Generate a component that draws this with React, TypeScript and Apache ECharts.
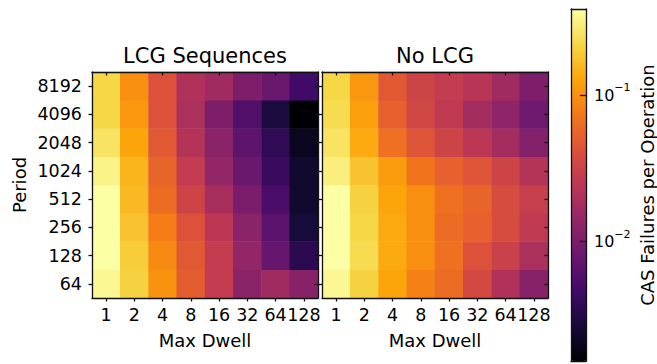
import React, { useEffect, useRef } from 'react';
import * as echarts from 'echarts';

// Max Dwell categories (x) and Period categories (y, bottom to top)
const dwells = ['1', '2', '4', '8', '16', '32', '64', '128'];
const periods = ['64', '128', '256', '512', '1024', '2048', '4096', '8192'];

// CAS failures per operation, rows follow `periods`, columns follow `dwells`
const lcgValues = [
  [0.348, 0.211, 0.103, 0.0501, 0.0273, 0.0126, 0.0166, 0.0119],
  [0.388, 0.200, 0.0920, 0.0474, 0.0273, 0.0140, 0.00764, 0.00352],
  [0.388, 0.179, 0.0780, 0.0425, 0.0244, 0.0126, 0.00647, 0.00267],
  [0.388, 0.160, 0.0625, 0.0322, 0.0185, 0.0101, 0.00519, 0.00239],
  [0.329, 0.151, 0.0560, 0.0273, 0.0140, 0.00807, 0.00416, 0.00239],
  [0.264, 0.128, 0.0474, 0.0218, 0.0126, 0.00684, 0.00372, 0.00202],
  [0.223, 0.109, 0.0425, 0.0195, 0.0106, 0.00579, 0.00282, 0.00153],
  [0.223, 0.0973, 0.0425, 0.0207, 0.0166, 0.0106, 0.00807, 0.00464],
];

const noLcgValues = [
  [0.348, 0.211, 0.128, 0.0824, 0.0625, 0.0360, 0.0207, 0.0119],
  [0.388, 0.236, 0.136, 0.0973, 0.0661, 0.0425, 0.0305, 0.0195],
  [0.388, 0.223, 0.136, 0.0973, 0.0625, 0.0530, 0.0380, 0.0258],
  [0.388, 0.211, 0.128, 0.0973, 0.0661, 0.0560, 0.0380, 0.0288],
  [0.311, 0.179, 0.115, 0.0698, 0.0530, 0.0449, 0.0322, 0.0218],
  [0.264, 0.136, 0.0661, 0.0449, 0.0322, 0.0244, 0.0175, 0.0112],
  [0.236, 0.121, 0.0530, 0.0340, 0.0258, 0.0175, 0.0133, 0.00853],
  [0.223, 0.109, 0.0474, 0.0322, 0.0273, 0.0231, 0.0166, 0.0106],
];

const colorMin = 0.00153;
const colorMax = 0.388;
const colorTickExponents = [-2, -1];

const inferno = [
  '#000004', '#160b39', '#420a68', '#6a176e', '#932667', '#bc3754',
  '#dd513a', '#f37819', '#fca50a', '#f6d746', '#fcffa4',
];

const FONT = 'DejaVu Sans';
const LINE = { color: '#111', width: 1.3 };

function toCells(rows: number[][]) {
  const out: number[][] = [];
  rows.forEach((row, yi) => row.forEach((v, xi) => out.push([xi, yi, Math.log10(v), v])));
  return out;
}

function heatAxes(gi: number, showY: boolean) {
  const xs = [
    {
      type: 'category', gridIndex: gi, data: dwells, position: 'bottom', z: 5,
      axisLine: { show: true, onZero: false, lineStyle: LINE },
      axisTick: { show: true, alignWithLabel: true, length: 3.5, lineStyle: LINE },
      axisLabel: { interval: 0, hideOverlap: false, margin: 8, fontSize: 17.5, color: '#000', fontFamily: FONT },
      splitLine: { show: false },
      name: 'Max Dwell', nameLocation: 'middle', nameGap: 33,
      nameTextStyle: { fontSize: 18, color: '#000', fontFamily: FONT },
    },
    {
      type: 'category', gridIndex: gi, data: dwells, position: 'top', z: 5,
      axisLine: { show: true, onZero: false, lineStyle: LINE },
      axisTick: { show: true, alignWithLabel: true, inside: true, length: 3.5, lineStyle: LINE },
      axisLabel: { show: false },
      splitLine: { show: false },
    },
  ];
  const ys = [
    {
      type: 'category', gridIndex: gi, data: periods, position: 'left', z: 5,
      axisLine: { show: true, onZero: false, lineStyle: LINE },
      axisTick: { show: true, alignWithLabel: true, length: 3.5, lineStyle: LINE },
      axisLabel: { show: showY, interval: 0, margin: 10, fontSize: 17.5, color: '#000', fontFamily: FONT },
      splitLine: { show: false },
      name: showY ? 'Period' : '', nameLocation: 'middle', nameGap: 64, nameRotate: 90,
      nameTextStyle: { fontSize: 18, color: '#000', fontFamily: FONT },
    },
    {
      type: 'category', gridIndex: gi, data: periods, position: 'right', z: 5,
      axisLine: { show: true, onZero: false, lineStyle: LINE },
      axisTick: { show: true, alignWithLabel: true, inside: true, length: 3.5, lineStyle: LINE },
      axisLabel: { show: false },
      splitLine: { show: false },
    },
  ];
  return { xs, ys };
}

export default function App() {
  const ref = useRef<HTMLDivElement>(null);

  useEffect(() => {
    document.body.style.margin = '0';
    if (!ref.current) return;
    const chart = echarts.init(ref.current, undefined, { renderer: 'svg' });

    const a0 = heatAxes(0, true);
    const a1 = heatAxes(1, false);
    const lo = Math.log10(colorMin);
    const hi = Math.log10(colorMax);

    const cbX = [
      { type: 'value', gridIndex: 2, min: 0, max: 1, position: 'bottom', z: 10,
        axisLine: { show: true, onZero: false, lineStyle: LINE }, axisTick: { show: false },
        axisLabel: { show: false }, splitLine: { show: false } },
      { type: 'value', gridIndex: 2, min: 0, max: 1, position: 'top', z: 10,
        axisLine: { show: true, onZero: false, lineStyle: LINE }, axisTick: { show: false },
        axisLabel: { show: false }, splitLine: { show: false } },
    ];
    const cbY = [
      { type: 'value', gridIndex: 2, min: lo, max: hi, position: 'left', z: 10,
        axisLine: { show: true, onZero: false, lineStyle: LINE }, axisTick: { show: false },
        axisLabel: { show: false }, splitLine: { show: false } },
      { type: 'value', gridIndex: 2, min: lo, max: hi, position: 'right', z: 10,
        axisLine: { show: true, onZero: false, lineStyle: LINE },
        axisTick: { show: true, inside: true, length: 6, customValues: colorTickExponents, lineStyle: LINE },
        axisLabel: {
          show: true, margin: 8, customValues: colorTickExponents,
          formatter: (v: number) => `{b|10}{s|${v < 0 ? '\u2212' : ''}${Math.abs(v)}}`,
          rich: {
            b: { fontSize: 16, lineHeight: 26, color: '#000', fontFamily: FONT },
            s: { fontSize: 11, lineHeight: 12, verticalAlign: 'top', color: '#000', fontFamily: FONT },
          },
        },
        splitLine: { show: false },
        name: 'CAS Failures per Operation', nameLocation: 'middle', nameGap: 52, nameRotate: 90,
        nameTextStyle: { fontSize: 18, color: '#000', fontFamily: FONT },
      },
    ];

    chart.setOption({
      animation: false,
      textStyle: { fontFamily: FONT },
      title: [
        { text: 'LCG Sequences', left: 205, top: 45.5, textAlign: 'center', padding: 0,
          textStyle: { fontSize: 21, fontWeight: 'normal', color: '#000', fontFamily: FONT } },
        { text: 'No LCG', left: 435, top: 45.5, textAlign: 'center', padding: 0,
          textStyle: { fontSize: 21, fontWeight: 'normal', color: '#000', fontFamily: FONT } },
      ],
      grid: [
        { left: 92, top: 72, width: 226, height: 226 },
        { left: 322, top: 72, width: 226, height: 226 },
        { left: 571, top: 9, width: 16, height: 352 },
      ],
      xAxis: [...a0.xs, ...a1.xs, ...cbX],
      yAxis: [...a0.ys, ...a1.ys, ...cbY],
      visualMap: {
        type: 'continuous', min: lo, max: hi, dimension: 2, seriesIndex: [0, 1],
        inRange: { color: inferno }, calculable: false, orient: 'vertical',
        left: 571, top: 9, itemWidth: 16, itemHeight: 352, padding: 0, z: 2,
      },
      series: [
        { type: 'heatmap', xAxisIndex: 0, yAxisIndex: 0, data: toCells(lcgValues),
          itemStyle: { borderWidth: 0 }, emphasis: { disabled: true } },
        { type: 'heatmap', xAxisIndex: 2, yAxisIndex: 2, data: toCells(noLcgValues),
          itemStyle: { borderWidth: 0 }, emphasis: { disabled: true } },
      ],
    });

    return () => chart.dispose();
  }, []);

  return <div ref={ref} style={{ width: 657, height: 364 }} />;
}
